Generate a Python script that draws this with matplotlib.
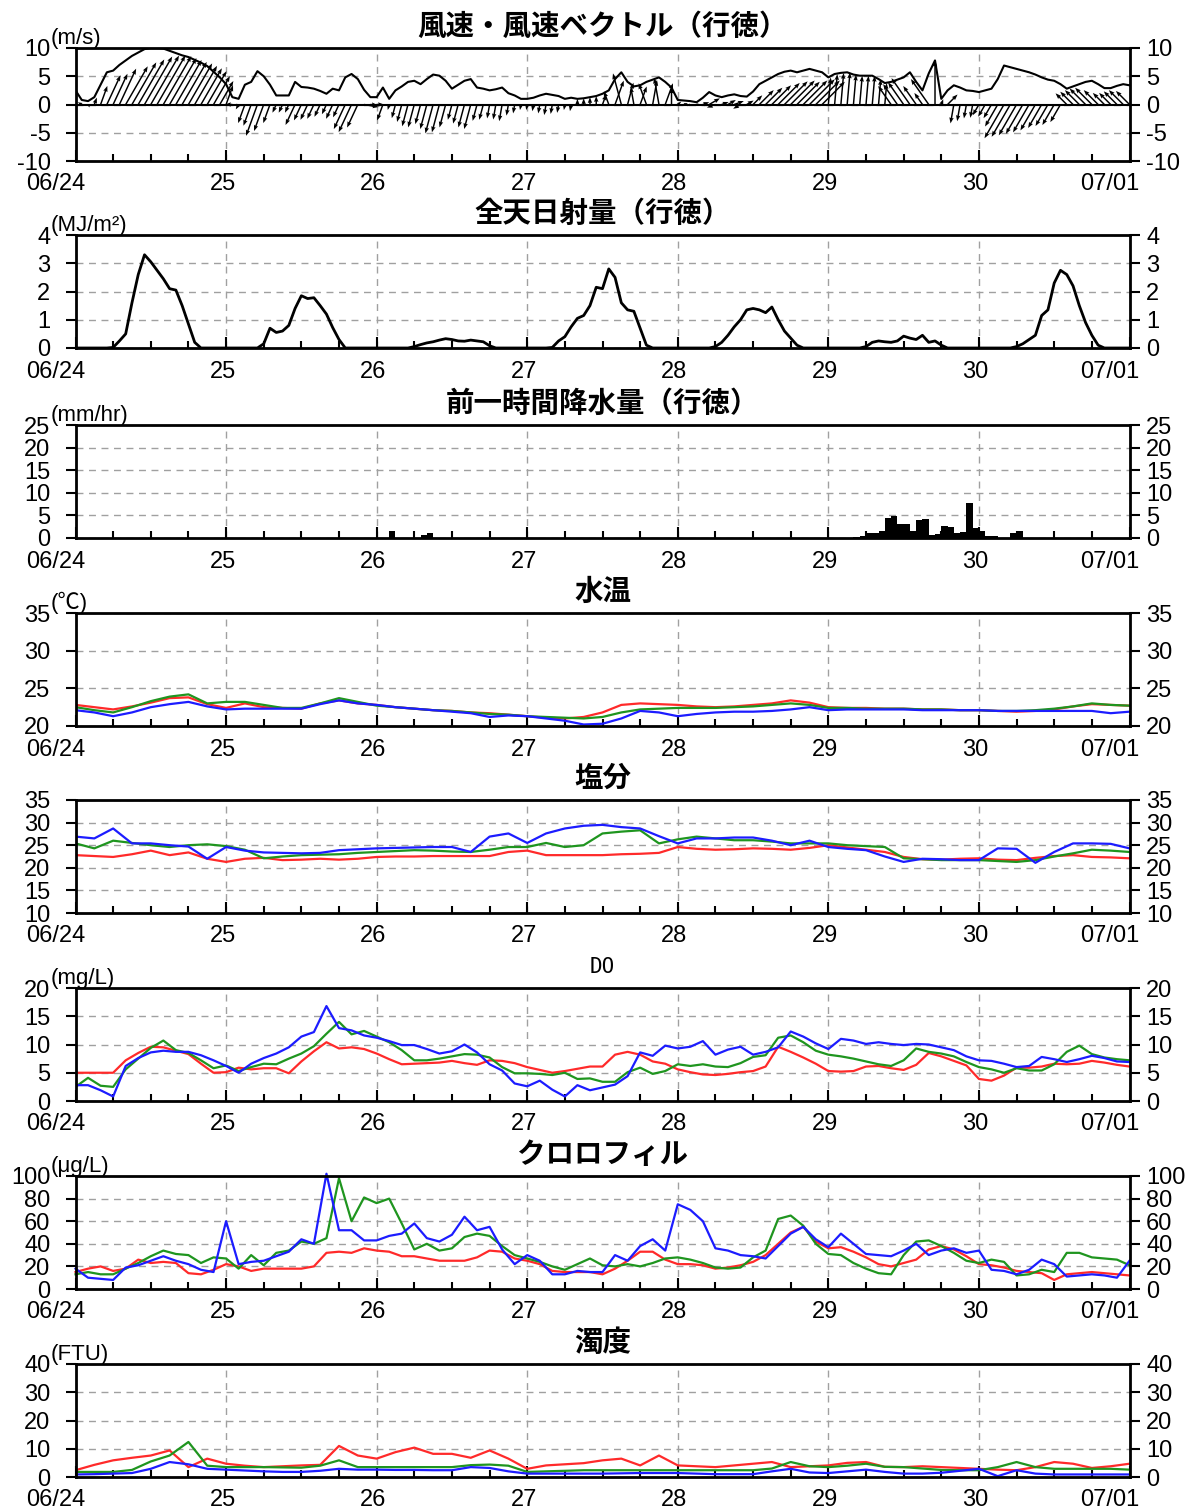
import numpy as np
import matplotlib
matplotlib.use('Agg')
import matplotlib.pyplot as plt
import matplotlib.transforms as mtransforms

plt.rcParams['font.family'] = ['Liberation Sans', 'Noto Sans CJK JP', 'DejaVu Sans']
plt.rcParams['axes.unicode_minus'] = False

FIG_W, FIG_H = 1198, 1511
AX_LEFT, AX_WIDTH, AX_HEIGHT = 75.5, 1054, 113
AX_TOPS = [48, 235, 425, 613, 800, 988, 1176, 1364]

DAY_LABELS = ['06/24', '25', '26', '27', '28', '29', '30', '07/01']
RED, GREEN, BLUE = '#ff2a2a', '#1f951f', '#1c1cff'

# ---- data (hours since 06/24 00:00) ----
hours_1h = np.arange(0, 169, 1)
hours_2h = np.arange(0, 169, 2)
hours_3h = np.arange(0, 169, 3)

# wind speed (m/s), hourly
wind_speed = [
    2.5, 0.8, 0.6, 1.3, 3.5, 5.7, 6.0, 7.0, 7.8, 8.6,
    9.2, 9.8, 10.0, 10.0, 9.9, 9.5, 9.1, 8.7, 8.4, 7.9,
    7.4, 6.8, 5.8, 4.8, 3.6, 1.3, 1.0, 3.5, 4.0, 5.9,
    5.0, 3.5, 1.6, 1.6, 1.6, 4.0, 3.1, 3.0, 2.8, 2.4,
    1.9, 2.8, 2.5, 4.8, 5.4, 4.5, 2.6, 1.3, 1.3, 3.0,
    1.0, 2.5, 3.2, 4.0, 4.2, 3.6, 4.5, 5.3, 5.1, 4.2,
    2.8, 3.5, 4.2, 4.5, 3.0, 2.8, 2.5, 2.7, 3.0, 2.0,
    1.6, 1.0, 1.0, 1.2, 1.6, 1.9, 1.7, 1.5, 1.0, 1.2,
    1.0, 1.1, 1.3, 1.5, 1.9, 2.5, 4.5, 5.7, 4.0, 3.2,
    3.4, 4.0, 4.4, 4.8, 4.0, 3.0, 0.8, 0.7, 0.6, 0.4,
    1.2, 2.2, 1.6, 1.3, 1.6, 1.8, 1.5, 1.4, 2.3, 3.6,
    4.2, 4.8, 5.4, 5.8, 6.0, 5.7, 6.0, 6.3, 6.0, 5.7,
    4.8, 5.4, 5.6, 5.7, 5.3, 5.1, 5.1, 5.1, 4.5, 3.8,
    4.0, 4.4, 4.8, 5.7, 4.0, 2.5, 5.5, 7.8, 1.0, 2.5,
    3.4, 3.0, 2.5, 2.4, 2.2, 2.5, 2.8, 4.5, 6.9, 6.6,
    6.3, 6.0, 5.7, 5.3, 4.8, 4.4, 4.2, 3.6, 2.8, 3.2,
    3.6, 4.0, 4.2, 3.6, 2.9, 2.9, 3.3, 3.6, 3.4,
]
# wind direction (deg, direction the wind blows from), hourly
wind_dir = [
    135, 120, 330, 200, 200, 205, 205, 205, 210, 210,
    210, 210, 210, 210, 210, 210, 210, 210, 210, 210,
    210, 210, 210, 210, 200, 90, 30, 20, 20, 20,
    20, 20, 25, 25, 25, 25, 25, 25, 25, 25,
    25, 25, 25, 25, 25, 25, 280, 275, 270, 20,
    15, 15, 15, 15, 15, 15, 15, 15, 15, 15,
    15, 15, 15, 15, 15, 15, 10, 10, 10, 10,
    10, 10, 10, 10, 10, 10, 10, 10, 10, 10,
    180, 180, 180, 180, 200, 160, 200, 165, 195, 170,
    200, 160, 190, 170, 200, 180, 230, 250, 60, 240,
    250, 240, 70, 250, 240, 250, 60, 240, 225, 225,
    225, 225, 225, 225, 225, 225, 225, 225, 225, 225,
    185, 185, 185, 185, 185, 185, 185, 185, 185, 185,
    145, 145, 145, 145, 145, 145, 145, 180, 200, 225,
    10, 10, 10, 10, 30, 30, 30, 30, 30, 30,
    30, 30, 30, 30, 30, 30, 30, 30, 135, 135,
    135, 135, 135, 135, 135, 135, 135, 135, 135,
]

# solar radiation (MJ/m2), hourly
radiation = [
    0, 0, 0, 0, 0, 0, 0.02, 0.25, 0.5, 1.6, 2.6, 3.3, 3.05, 2.75, 2.45, 2.1, 2.05, 1.5, 0.85, 0.2, 0, 0, 0, 0,
    0, 0, 0, 0, 0, 0, 0.15, 0.7, 0.55, 0.6, 0.8, 1.4, 1.85, 1.75, 1.78, 1.5, 1.2, 0.72, 0.3, 0, 0, 0, 0, 0,
    0, 0, 0, 0, 0, 0, 0.05, 0.12, 0.18, 0.22, 0.28, 0.33, 0.3, 0.25, 0.24, 0.28, 0.25, 0.22, 0.08, 0, 0, 0, 0, 0,
    0, 0, 0, 0, 0.02, 0.25, 0.4, 0.75, 1.05, 1.15, 1.5, 2.15, 2.1, 2.8, 2.5, 1.6, 1.35, 1.3, 0.7, 0.1, 0, 0, 0, 0,
    0, 0, 0, 0, 0, 0, 0.05, 0.2, 0.45, 0.75, 1.0, 1.35, 1.4, 1.35, 1.25, 1.45, 1.0, 0.6, 0.35, 0.1, 0, 0, 0, 0,
    0, 0, 0, 0, 0, 0, 0.05, 0.2, 0.25, 0.22, 0.2, 0.25, 0.42, 0.35, 0.3, 0.45, 0.2, 0.25, 0.1, 0, 0, 0, 0, 0,
    0, 0, 0, 0, 0, 0, 0.05, 0.15, 0.3, 0.45, 1.15, 1.35, 2.3, 2.75, 2.6, 2.2, 1.5, 0.9, 0.45, 0.1, 0, 0, 0, 0, 0,
]

# precipitation (mm/hr), only hours with rain
rain_hours = [50, 55, 56, 124, 125, 126, 127, 128, 129, 130, 131, 132, 133, 134, 135,
              136, 137, 138, 139, 140, 141, 142, 143, 144, 145, 146, 149, 150]
rain_mm = [1.5, 0.6, 1.0, 0.3, 0.5, 1.0, 1.2, 1.5, 4.5, 4.8, 3.2, 3.0, 1.5, 4.0, 4.3,
           0.6, 0.8, 2.6, 2.4, 1.2, 1.3, 7.8, 2.2, 1.6, 0.4, 0.4, 1.2, 1.5]

# water temperature (deg C), 3-hourly, three stations
temp_red = [
    22.8, 22.5, 22.2, 22.6, 23.1, 23.7, 23.8, 22.9,
    22.4, 23.0, 22.5, 22.4, 22.3, 23.0, 23.4, 23.0,
    22.8, 22.5, 22.3, 22.1, 22.0, 21.8, 21.7, 21.5,
    21.3, 21.1, 21.0, 21.2, 21.8, 22.8, 23.0, 22.9,
    22.8, 22.6, 22.5, 22.6, 22.8, 23.0, 23.4, 23.1,
    22.5, 22.4, 22.4, 22.3, 22.3, 22.2, 22.2, 22.1,
    22.1, 22.0, 21.9, 22.0, 22.2, 22.6, 22.9, 22.8,
    22.7,
]
temp_green = [
    22.5, 22.1, 21.8, 22.5, 23.3, 23.9, 24.2, 23.0,
    23.2, 23.2, 22.8, 22.4, 22.4, 23.0, 23.7, 23.2,
    22.7, 22.5, 22.3, 22.1, 22.0, 21.8, 21.6, 21.5,
    21.3, 21.2, 21.1, 21.0, 21.2, 21.8, 22.2, 22.3,
    22.4, 22.4, 22.4, 22.5, 22.6, 22.8, 23.0, 22.8,
    22.4, 22.4, 22.3, 22.3, 22.3, 22.2, 22.2, 22.1,
    22.1, 22.0, 22.0, 22.1, 22.3, 22.6, 23.0, 22.8,
    22.7,
]
temp_blue = [
    22.1, 21.8, 21.3, 21.8, 22.5, 22.9, 23.2, 22.6,
    22.2, 22.3, 22.3, 22.3, 22.3, 22.9, 23.4, 23.0,
    22.8, 22.5, 22.3, 22.1, 21.9, 21.7, 21.2, 21.4,
    21.3, 21.0, 20.7, 20.2, 20.3, 21.0, 22.0, 21.8,
    21.3, 21.6, 21.8, 21.9, 21.9, 22.0, 22.2, 22.5,
    22.1, 22.2, 22.2, 22.2, 22.2, 22.1, 22.1, 22.1,
    22.1, 22.0, 22.0, 22.0, 22.0, 22.0, 22.0, 21.7,
    21.9,
]

# salinity, 3-hourly
sal_red = [
    22.8, 22.6, 22.4, 23.0, 23.8, 22.8, 23.4, 22.0,
    21.3, 22.0, 22.2, 21.7, 21.8, 22.0, 21.8, 22.0,
    22.4, 22.5, 22.5, 22.6, 22.6, 22.6, 22.6, 23.5,
    23.8, 22.8, 22.8, 22.8, 22.8, 23.0, 23.1, 23.3,
    24.6, 24.2, 24.0, 24.1, 24.3, 24.2, 24.0, 24.4,
    25.0, 24.5, 24.0, 23.5, 22.4, 21.9, 21.8, 22.0,
    22.1, 21.8, 21.7, 22.2, 22.6, 22.8, 22.4, 22.3,
    22.1,
]
sal_green = [
    25.4, 24.3, 26.0, 25.5, 25.0, 24.6, 25.0, 25.2,
    24.8, 24.0, 22.1, 22.5, 22.8, 22.9, 23.0, 23.3,
    23.5, 23.7, 23.9, 23.8, 23.6, 23.5, 24.0, 24.6,
    24.6, 25.5, 24.6, 25.0, 27.6, 28.0, 28.3, 25.4,
    26.3, 26.9, 26.5, 26.1, 26.1, 25.8, 25.4, 25.4,
    25.4, 25.0, 24.8, 24.6, 22.1, 21.9, 21.7, 21.7,
    21.7, 21.5, 21.3, 21.7, 22.5, 23.2, 24.0, 23.8,
    23.5,
]
sal_blue = [
    26.9, 26.5, 28.7, 25.4, 25.4, 25.0, 24.7, 22.0,
    24.6, 23.8, 23.4, 23.3, 23.2, 23.3, 23.9, 24.1,
    24.3, 24.4, 24.5, 24.6, 24.6, 23.5, 26.9, 27.6,
    25.5, 27.6, 28.7, 29.3, 29.5, 29.0, 28.7, 27.0,
    25.4, 26.5, 26.5, 26.7, 26.7, 26.0, 25.0, 26.0,
    24.6, 24.2, 23.9, 22.5, 21.3, 22.0, 21.9, 21.7,
    21.7, 24.3, 24.2, 21.1, 23.5, 25.4, 25.4, 25.3,
    24.3,
]

# dissolved oxygen (mg/L), 2-hourly
do_red = [
    5.0, 5.0, 5.0, 5.0, 7.2, 8.5, 9.6, 9.5, 8.9, 8.3, 6.6, 5.0,
    5.1, 5.9, 5.6, 5.8, 5.8, 4.9, 7.0, 8.8, 10.4, 9.3, 9.5, 9.2,
    8.4, 7.4, 6.5, 6.6, 6.7, 6.8, 7.1, 6.7, 6.4, 7.2, 7.1, 6.7,
    6.0, 5.5, 5.0, 5.3, 5.7, 6.1, 6.1, 8.2, 8.7, 8.2, 7.0, 6.6,
    5.6, 5.1, 4.7, 4.6, 4.8, 5.1, 5.3, 6.1, 9.6, 8.7, 7.7, 6.6,
    5.3, 5.2, 5.3, 6.1, 6.2, 5.8, 5.5, 6.4, 8.5, 7.9, 7.1, 6.3,
    3.9, 3.6, 4.5, 5.9, 5.9, 6.1, 6.6, 6.5, 6.6, 7.1, 6.8, 6.4,
    6.1,
]
do_green = [
    2.5, 4.1, 2.7, 2.5, 5.6, 7.5, 9.4, 10.7, 9.0, 8.5, 7.2, 5.8,
    6.3, 5.3, 6.0, 6.6, 6.5, 7.5, 8.4, 9.7, 11.9, 14.0, 11.8, 12.4,
    11.4, 10.4, 9.0, 7.2, 7.2, 7.5, 7.9, 8.3, 8.2, 7.7, 6.0, 4.9,
    4.9, 4.8, 4.6, 5.0, 3.9, 4.0, 3.4, 3.4, 5.1, 5.9, 4.8, 5.3,
    6.5, 6.2, 6.5, 6.1, 6.0, 6.7, 7.8, 8.1, 11.2, 11.6, 10.4, 8.9,
    8.2, 7.9, 7.5, 7.0, 6.5, 6.2, 7.2, 9.3, 8.7, 8.4, 7.9, 6.9,
    6.0, 5.6, 5.0, 5.8, 5.4, 5.4, 6.5, 8.7, 9.8, 8.3, 7.7, 7.4,
    7.2,
]
do_blue = [
    2.8, 2.8, 1.9, 0.8, 6.2, 7.6, 8.6, 8.9, 8.7, 8.7, 8.1, 7.2,
    6.2, 5.0, 6.6, 7.6, 8.4, 9.5, 11.4, 12.2, 16.8, 12.9, 12.5, 11.6,
    11.2, 10.6, 9.9, 9.9, 9.2, 8.4, 8.8, 10.0, 8.6, 6.5, 5.4, 3.1,
    2.6, 3.6, 2.0, 0.8, 2.8, 1.9, 2.4, 2.9, 4.4, 8.6, 8.0, 9.8,
    9.3, 9.6, 10.6, 8.2, 9.1, 9.6, 8.2, 8.7, 9.5, 12.3, 11.4, 10.2,
    9.2, 11.0, 10.7, 10.1, 10.4, 10.1, 9.9, 10.1, 10.0, 9.5, 9.0, 7.9,
    7.2, 7.1, 6.6, 6.0, 6.2, 7.8, 7.4, 6.9, 7.4, 8.0, 7.6, 7.0,
    6.9,
]

# chlorophyll (ug/L), 2-hourly
chl_red = [
    15, 18, 20, 16, 18, 26, 23, 24, 23, 14, 13, 17,
    22, 20, 16, 18, 18, 18, 18, 20, 32, 33, 32, 36,
    34, 33, 29, 29, 27, 25, 25, 25, 28, 34, 33, 27,
    25, 22, 16, 15, 15, 15, 13, 18, 25, 33, 33, 26,
    22, 22, 21, 18, 19, 21, 24, 30, 40, 50, 55, 42,
    36, 37, 33, 28, 22, 20, 23, 26, 35, 38, 35, 29,
    22, 21, 19, 16, 15, 14, 8, 13, 14, 15, 14, 13,
    12,
]
chl_green = [
    13, 15, 13, 13, 18, 23, 29, 34, 31, 30, 23, 28,
    27, 18, 30, 21, 32, 34, 42, 40, 45, 98, 60, 81,
    76, 80, 58, 35, 40, 34, 36, 46, 49, 47, 38, 30,
    27, 24, 20, 17, 22, 27, 21, 20, 22, 20, 23, 27,
    28, 26, 23, 19, 18, 19, 28, 34, 62, 65, 56, 40,
    31, 30, 23, 18, 14, 13, 30, 42, 43, 38, 32, 25,
    23, 26, 24, 12, 13, 17, 15, 32, 32, 28, 27, 26,
    21,
]
chl_blue = [
    18, 10, 9, 8, 19, 21, 25, 29, 25, 22, 17, 15,
    60, 22, 24, 25, 29, 33, 44, 40, 102, 52, 52, 43,
    43, 47, 49, 58, 45, 42, 48, 64, 52, 55, 35, 22,
    30, 25, 13, 13, 16, 15, 15, 30, 25, 38, 44, 34,
    75, 70, 60, 36, 34, 30, 29, 27, 38, 49, 55, 44,
    37, 49, 40, 31, 30, 29, 34, 40, 30, 34, 36, 32,
    34, 17, 16, 13, 17, 26, 22, 11, 12, 13, 12, 10,
    25,
]

# turbidity (FTU), 3-hourly
turb_red = [
    2.4, 4.3, 5.9, 6.8, 7.6, 9.4, 3.5, 6.5,
    4.7, 4.0, 3.5, 3.8, 4.1, 4.3, 11.0, 7.6,
    6.5, 8.8, 10.4, 8.2, 8.2, 6.8, 9.4, 6.5,
    2.9, 4.1, 4.5, 4.9, 5.9, 6.5, 4.1, 7.6,
    4.1, 3.8, 3.5, 4.1, 4.7, 5.3, 3.5, 3.8,
    4.1, 5.0, 5.3, 3.6, 3.5, 3.8, 3.5, 3.2,
    2.9, 2.6, 2.4, 3.5, 5.3, 4.7, 3.2, 3.8,
    4.7,
]
turb_green = [
    1.8, 1.8, 1.8, 2.5, 5.5, 7.6, 12.4, 4.0,
    3.5, 3.5, 3.5, 3.4, 3.3, 4.0, 5.9, 3.5,
    3.5, 3.5, 3.5, 3.5, 3.5, 4.2, 4.4, 4.0,
    1.8, 2.0, 2.2, 2.4, 2.4, 2.4, 2.4, 2.4,
    2.4, 2.4, 2.4, 2.4, 2.4, 3.0, 5.3, 3.8,
    3.5, 4.0, 4.7, 3.6, 3.5, 3.0, 2.5, 2.4,
    2.4, 3.5, 5.3, 3.5, 2.9, 2.9, 2.9, 2.9,
    2.6,
]
turb_blue = [
    0.9, 1.0, 1.2, 1.4, 2.9, 5.3, 4.5, 2.9,
    2.6, 2.3, 2.0, 1.8, 1.8, 2.2, 2.9, 2.6,
    2.6, 2.5, 2.5, 2.4, 2.4, 3.5, 3.2, 2.0,
    1.2, 1.2, 1.2, 1.2, 1.2, 1.3, 1.4, 1.4,
    1.4, 1.2, 1.0, 1.0, 1.0, 2.0, 2.9, 1.6,
    1.4, 2.0, 2.6, 1.8, 1.2, 1.2, 1.5, 2.2,
    2.9, 0.3, 2.4, 1.2, 0.9, 0.9, 0.9, 0.9,
    0.9,
]


def setup_panel(fig, top_px, ylim, yticks, title, unit=None, title_font=None):
    ax = fig.add_axes([AX_LEFT / FIG_W, 1 - (top_px + AX_HEIGHT) / FIG_H,
                       AX_WIDTH / FIG_W, AX_HEIGHT / FIG_H])
    ax.set_xlim(0, 7)
    ax.set_ylim(*ylim)
    ax.set_xticks(range(8))
    ax.set_xticklabels(DAY_LABELS)
    ax.set_xticks(np.arange(0, 7.01, 0.25), minor=True)
    ax.tick_params(axis='x', which='both', direction='in', top=False,
                   width=1.5, labelsize=17, pad=9)
    ax.tick_params(axis='x', which='major', length=8)
    ax.tick_params(axis='x', which='minor', length=5)
    shift = mtransforms.ScaledTranslation(7 / 72, 0, fig.dpi_scale_trans)
    for lbl in ax.get_xticklabels():
        lbl.set_horizontalalignment('right')
        lbl.set_transform(lbl.get_transform() + shift)
    ax.set_yticks(yticks)
    ax.tick_params(axis='y', which='major', direction='out', length=7,
                   width=1.5, labelsize=17, pad=11)
    ax.grid(True, which='major', color='#a0a0a0', linestyle=(0, (5, 4)), linewidth=1.0)
    ax.set_axisbelow(True)
    for sp in ax.spines.values():
        sp.set_linewidth(2.0)

    right = ax.twinx()
    right.set_ylim(*ylim)
    right.set_yticks(yticks)
    right.tick_params(axis='y', direction='out', length=7, width=1.5,
                      labelsize=17, pad=5)
    for sp in right.spines.values():
        sp.set_visible(False)

    if title_font is None:
        ax.annotate(title, xy=(0.5, 1), xycoords='axes fraction', xytext=(0, 15),
                    textcoords='offset points', ha='center', va='center',
                    fontsize=20.5, fontweight='bold',
                    family=['Noto Sans CJK JP', 'DejaVu Sans'])
    else:
        ax.annotate(title, xy=(0.5, 1), xycoords='axes fraction', xytext=(0, 15),
                    textcoords='offset points', ha='center', va='center',
                    fontsize=15, family=title_font)
    if unit:
        ax.annotate(unit, xy=(0, 1), xycoords='axes fraction', xytext=(-18, -1),
                    textcoords='offset points', ha='left', va='bottom', fontsize=16)
    return ax


fig = plt.figure(figsize=(FIG_W / 100, FIG_H / 100), dpi=100)

# 1. wind speed and vectors
ax = setup_panel(fig, AX_TOPS[0], (-10, 10), [-10, -5, 0, 5, 10],
                 '風速・風速ベクトル（行徳）', '(m/s)')
spd = np.array(wind_speed)
rad_dir = np.deg2rad(np.array(wind_dir))
u = -spd * np.sin(rad_dir)
v = -spd * np.cos(rad_dir)
days_1h = hours_1h / 24
ax.axhline(0, color='k', lw=1.5, zorder=2)
ax.quiver(days_1h, np.zeros_like(days_1h), u, v, angles='uv', scale_units='y', scale=1,
          width=0.0014, headwidth=3, headlength=4, headaxislength=3.6,
          color='k', zorder=3)
ax.plot(days_1h, spd, color='k', lw=1.5, zorder=4)

# 2. solar radiation
ax = setup_panel(fig, AX_TOPS[1], (0, 4), [0, 1, 2, 3, 4],
                 '全天日射量（行徳）', '(MJ/m²)')
ax.plot(days_1h, radiation, color='k', lw=2)

# 3. precipitation
ax = setup_panel(fig, AX_TOPS[2], (0, 25), [0, 5, 10, 15, 20, 25],
                 '前一時間降水量（行徳）', '(mm/hr)')
ax.bar(np.array(rain_hours) / 24, rain_mm, width=1 / 24, align='edge', color='k')

# 4. water temperature
ax = setup_panel(fig, AX_TOPS[3], (20, 35), [20, 25, 30, 35], '水温', '(℃)')
for series, col in ((temp_red, RED), (temp_green, GREEN), (temp_blue, BLUE)):
    ax.plot(hours_3h / 24, series, color=col, lw=1.6)

# 5. salinity
ax = setup_panel(fig, AX_TOPS[4], (10, 35), [10, 15, 20, 25, 30, 35], '塩分')
for series, col in ((sal_red, RED), (sal_green, GREEN), (sal_blue, BLUE)):
    ax.plot(hours_3h / 24, series, color=col, lw=1.6)

# 6. DO
ax = setup_panel(fig, AX_TOPS[5], (0, 20), [0, 5, 10, 15, 20], 'DO', '(mg/L)',
                 title_font=['DejaVu Sans Mono'])
for series, col in ((do_red, RED), (do_green, GREEN), (do_blue, BLUE)):
    ax.plot(hours_2h / 24, series, color=col, lw=1.6)

# 7. chlorophyll
ax = setup_panel(fig, AX_TOPS[6], (0, 100), [0, 20, 40, 60, 80, 100],
                 'クロロフィル', '(μg/L)')
for series, col in ((chl_red, RED), (chl_green, GREEN), (chl_blue, BLUE)):
    ax.plot(hours_2h / 24, series, color=col, lw=1.6, clip_on=False)

# 8. turbidity
ax = setup_panel(fig, AX_TOPS[7], (0, 40), [0, 10, 20, 30, 40], '濁度', '(FTU)')
for series, col in ((turb_red, RED), (turb_green, GREEN), (turb_blue, BLUE)):
    ax.plot(hours_3h / 24, series, color=col, lw=1.6)

fig.savefig('out.png', dpi=100)
